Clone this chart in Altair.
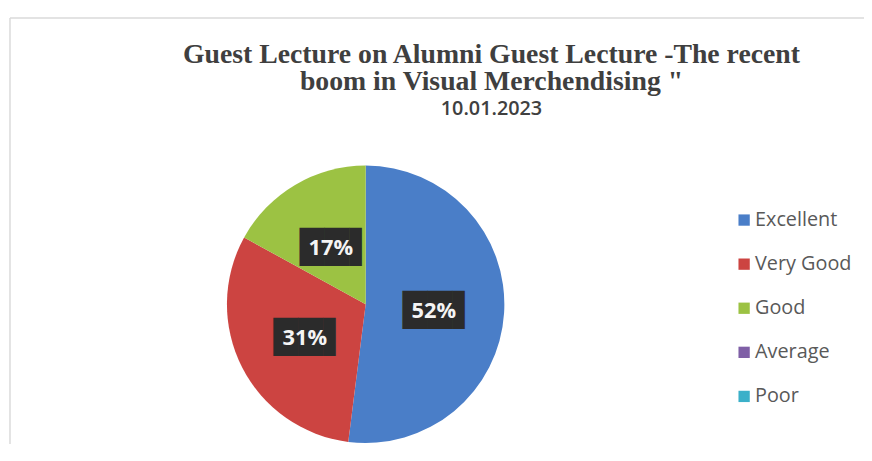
import altair as alt
import pandas as pd

# ---- data ----
categories = ["Excellent", "Very Good", "Good", "Average", "Poor"]
shares = [52, 31, 17, 0, 0]
pct_labels = ["52%", "31%", "17%", "", ""]
colors = ["#4a7ec8", "#cc4441", "#9cc243", "#7f5fa6", "#3bb0c9"]
title_lines = ["Guest Lecture on Alumni Guest Lecture -The recent",
               "boom in Visual Merchendising \""]
subtitle_text = "10.01.2023"

df = pd.DataFrame({
    "category": categories,
    "share": shares,
    "label": pct_labels,
    "idx": list(range(len(categories))),
})
df["box"] = "\u2588\u2588\u258C"

W, H = 862, 430
CX, CY, R = 359, 289, 140

base = alt.Chart(df).encode(
    theta=alt.Theta("share:Q", stack=True),
    order=alt.Order("idx:Q"),
)

pie = base.mark_arc(outerRadius=R, strokeWidth=0).encode(
    x=alt.value(CX),
    y=alt.value(CY),
    color=alt.Color(
        "category:N",
        scale=alt.Scale(domain=categories, range=colors),
        legend=alt.Legend(
            title=None, orient="none", legendX=731, legendY=194,
            symbolType="square", symbolSize=130, symbolStrokeWidth=0,
            labelFont="Open Sans", labelFontSize=20, labelColor="#595959",
            rowPadding=24.5, labelOffset=1, padding=0,
        ),
    ),
)

boxes = base.mark_text(
    radius=69, font="DejaVu Sans", fontSize=32.5, color="#2b2b2b",
    baseline="middle", align="center", dx=6, dy=3,
).encode(
    x=alt.value(CX), y=alt.value(CY), text="box:N"
).transform_filter(alt.datum.share > 0)

labels = base.mark_text(
    radius=69, font="Open Sans", fontSize=22, fontWeight="bold", color="#f4f4f4",
    baseline="middle", align="center", dy=3,
).encode(
    x=alt.value(CX), y=alt.value(CY), text="label:N"
).transform_filter(alt.datum.share > 0)

frame_data = alt.Data(values=[{"k": 0}])
top_line = alt.Chart(frame_data).mark_rule(color="#dadada", strokeWidth=1.5).encode(
    x=alt.value(0), x2=alt.value(W), y=alt.value(0)
)
left_line = alt.Chart(frame_data).mark_rule(color="#dadada", strokeWidth=1.5).encode(
    x=alt.value(0), y=alt.value(0), y2=alt.value(H)
)

chart = alt.layer(top_line, left_line, pie, boxes, labels).properties(
    width=W, height=H,
    title=alt.Title(
        text=title_lines, subtitle=subtitle_text,
        font="Liberation Serif", fontSize=28, fontWeight="bold", color="#3f3f3f",
        lineHeight=27,
        subtitleFont="Open Sans", subtitleFontSize=20, subtitleFontWeight=600,
        subtitleColor="#404040", subtitlePadding=4,
        anchor="middle", frame="group", offset=-103, dx=55,
    ),
    autosize=alt.AutoSizeParams(type="none"),
    padding={"left": 2, "top": 8, "right": 0, "bottom": 0},
    background="white",
).configure_view(stroke=None)

chart.save("out.html", embed_options={"renderer": "svg", "actions": False})
